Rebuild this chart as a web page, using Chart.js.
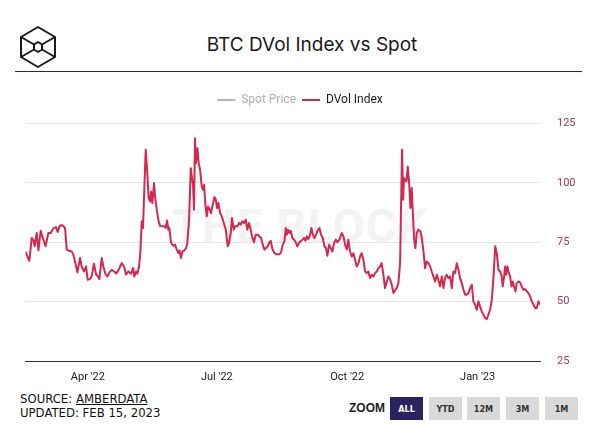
<!DOCTYPE html>
<html>
<head>
<meta charset="utf-8">
<script src="https://cdn.jsdelivr.net/npm/chart.js@4.4.0/dist/chart.umd.min.js"></script>
<style>
  body { margin: 0; background: #fff; }
  #wrap { position: relative; width: 600px; height: 439px; overflow: hidden; background: #fff; font-family: Roboto, sans-serif; }
  #logo { position: absolute; left: 19px; top: 25px; }
  #title { position: absolute; left: 312px; top: 33px; transform: translateX(-50%); font-family: Inter, Roboto, sans-serif; font-size: 19px; color: #1a1a1a; white-space: nowrap; line-height: 24px; }
  #rule { position: absolute; left: 15px; top: 71px; width: 567px; height: 1px; background: #4a1450; }
  #mark { position: absolute; left: 172px; top: 202px; font-family: Roboto, sans-serif; font-weight: 700; font-size: 47px; line-height: 47px; color: #f3f3f3; letter-spacing: 1px; white-space: nowrap; }
  #chart { position: absolute; left: 0; top: 85px; }
  #source { position: absolute; left: 20px; top: 392px; font-family: "Liberation Sans Narrow", "DejaVu Sans Condensed", sans-serif; font-size: 13px; line-height: 14px; color: #111; }
  #source u { text-decoration: underline; }
  #zoom .lbl { position: absolute; left: 349px; top: 401px; font-family: "Liberation Sans", Arial, sans-serif; font-weight: 700; font-size: 12px; color: #222; }
  #zoom .btn { position: absolute; top: 397px; width: 33px; height: 23px; background: #d9d9d9; color: #333; font-family: "Liberation Sans Narrow", "DejaVu Sans Condensed", sans-serif; font-weight: 700; font-size: 9px; display: flex; align-items: center; justify-content: center; }
  #zoom .btn.on { background: #2b2262; color: #fff; }
</style>
</head>
<body>
<div id="wrap">
  <svg id="logo" width="38" height="44" viewBox="0 0 38 44">
    <g fill="none" stroke="#1a1a1a" stroke-width="2" stroke-linejoin="round">
      <polygon points="19,2 36,12 36,32 19,42 2,32 2,12"/>
      <polygon points="19,17 23,19.5 23,24.5 19,27 15,24.5 15,19.5"/>
      <line x1="2" y1="12" x2="15" y2="19.5"/>
      <line x1="36" y1="12" x2="23" y2="19.5"/>
      <line x1="2" y1="32" x2="15" y2="24.5"/>
      <line x1="36" y1="32" x2="23" y2="24.5"/>
    </g>
  </svg>
  <div id="title">BTC DVol Index vs Spot</div>
  <div id="rule"></div>
  <div id="mark">THE BLOCK</div>
  <canvas id="chart" width="600" height="301"></canvas>
  <div id="source">SOURCE: <u>AMBERDATA</u><br>UPDATED: FEB 15, 2023</div>
  <div id="zoom">
    <span class="lbl">ZOOM</span>
    <div class="btn on" style="left:390px">ALL</div>
    <div class="btn" style="left:429px">YTD</div>
    <div class="btn" style="left:467px">12M</div>
    <div class="btn" style="left:506px">3M</div>
    <div class="btn" style="left:545px">1M</div>
  </div>
</div>
<script>
'use strict';

// day 0 = Feb 16 2022
let days = [
  0, 1.3, 2.7, 4.4, 5.5, 6.5, 7.9, 9.1, 10.7, 12.6, 14.2, 16.1, 17.8, 19.6, 21.5, 22.7, 24.3, 26.0, 27.9, 29.1,
  30.7, 32.6, 33.8, 35.2, 36.6, 38.5, 39.6, 41.3, 42.7, 43.9, 45.5, 46.7, 48.3, 49.8, 51.2, 52.1, 53.8, 54.9, 56.3, 57.8,
  59.2, 60.8, 62.5, 64.1, 65.7, 67.9, 69.5, 70.9, 72.6,
  74.5, 75.9, 76.8, 78.0, 79.0, 80.1, 81.0, 82.0, 82.9, 83.9, 84.8, 85.8, 86.9, 87.9, 88.6, 89.5, 90.7, 91.4, 92.6, 93.7,
  94.9, 96.6, 98.0, 98.9, 99.9, 100.8, 101.5, 102.7, 104.3, 105.5, 106.7, 107.9, 108.6, 109.7, 110.7, 112.1, 113.3, 114.2, 115.4, 116.6,
  117.5, 118.2, 118.9, 119.6, 120.3, 121.3, 122.2, 123.2, 124.3, 125.3, 126.0, 126.9, 127.9, 128.8, 130.0, 130.9, 131.9, 133.3, 134.2, 135.2,
  136.1, 137.3, 138.5, 139.9, 141.3, 142.7, 143.6, 144.8, 145.7, 146.9, 147.9,
  149.5, 150.7, 151.8, 153.0, 154.2, 155.4, 156.5, 157.7, 158.9, 160.1, 161.2, 162.4, 163.9, 165.0, 166.2, 167.4, 168.6, 169.7, 170.9, 172.1,
  173.0, 174.2, 175.4, 176.5, 177.9, 179.1, 180.3, 181.5, 182.7, 183.6, 184.3, 185.2, 186.2, 187.1, 188.3, 189.5, 190.7, 191.8, 193.0, 194.2,
  195.4, 196.5, 197.5, 198.4, 199.6, 200.8, 201.7, 202.7, 203.8, 205.0, 206.2, 207.4, 208.5, 209.7, 210.9, 212.0, 213.0, 214.2, 215.3, 216.5,
  217.7, 218.9, 220.1, 221.5,
  223.1, 224.3, 225.5, 226.7, 227.8, 229.0, 230.2, 231.4, 232.5, 233.7, 234.9, 236.1, 237.2, 238.4, 239.6, 240.8, 241.9, 243.1, 244.3, 245.5,
  246.6, 247.8, 249.0, 250.2, 251.3, 252.5, 253.7, 254.9, 256.0, 257.2, 258.4, 259.6, 260.8, 261.9, 263.1, 264.3, 265.0, 265.7, 266.4, 267.1,
  268.0, 268.8, 269.7, 270.7, 271.6, 272.5, 273.2, 274.2, 275.1, 276.0, 277.2, 278.6, 279.6, 280.8, 281.9, 283.1, 284.3, 285.5, 286.6, 287.8,
  289.0, 290.2, 291.3, 292.5, 293.7, 294.9, 296.0,
  297.2, 298.4, 299.6, 300.8, 301.9, 303.1, 304.3, 305.5, 306.6, 307.8, 309.0, 310.2, 311.3, 312.5, 313.7, 314.9, 316.0, 317.2, 318.4, 319.6,
  320.7, 321.9, 323.1, 324.3, 325.5, 326.6, 327.8, 329.0, 330.2, 331.4, 332.5, 333.7, 334.9, 336.0, 336.7, 337.7, 338.4, 339.1, 340.0, 341.0,
  341.9, 342.9, 343.8, 344.7, 345.7, 346.6, 347.8, 348.9, 350.1, 351.3, 352.5, 353.7, 354.8, 356.0, 357.2, 358.4, 359.6, 360.7, 361.9, 363
];

let dvol = [
  71.1, 69.0, 67.2, 76.8, 76.1, 73.3, 78.9, 71.6, 79.8, 76.1, 73.3, 78.9, 78.9, 80.8, 81.4, 79.3, 82.1, 82.2, 81.0, 71.9,
  71.4, 71.1, 69.7, 66.2, 62.3, 68.4, 64.8, 62.7, 64.8, 59.2, 59.5, 60.6, 66.0, 61.4, 60.6, 59.5, 68.4, 64.8, 61.8, 60.6,
  62.3, 63.4, 62.7, 61.8, 63.4, 66.2, 64.8, 61.4, 62.7,
  61.8, 64.1, 60.6, 62.7, 61.8, 64.8, 70.4, 83.8, 81.0, 98.5, 113.9, 105.5, 93.6, 92.2, 96.4, 91.5, 99.9, 94.3, 88.7, 84.5,
  81.9, 81.7, 81.7, 81.0, 84.2, 80.3, 81.0, 74.7, 73.5, 74.0, 71.9, 70.4, 71.6, 68.4, 71.1, 71.6, 72.5, 74.7, 84.5, 106.2,
  102.0, 99.2, 88.7, 118.8, 108.3, 114.6, 108.3, 105.5, 98.5, 97.1, 99.2, 90.8, 85.9, 90.1, 88.7, 87.3, 90.3, 94.0, 93.1, 89.4,
  91.5, 87.3, 85.9, 83.1, 80.3, 73.3, 74.7, 78.9, 85.2, 80.3, 81.7,
  81.7, 83.1, 82.4, 83.8, 83.1, 84.5, 80.3, 83.1, 80.3, 76.8, 75.0, 78.2, 78.2, 77.5, 76.8, 74.0, 71.9, 72.6, 73.3, 75.0,
  75.6, 72.1, 70.7, 70.0, 70.0, 70.0, 70.7, 74.0, 75.4, 81.0, 78.2, 80.3, 78.9, 79.8, 76.8, 76.1, 75.0, 73.3, 74.7, 75.4,
  76.1, 76.8, 75.6, 77.5, 76.3, 78.2, 81.0, 78.2, 76.8, 78.2, 80.0, 81.0, 78.2, 76.8, 73.3, 72.6, 69.3, 74.0, 72.6, 71.1,
  74.7, 76.1, 75.0, 76.1,
  78.9, 77.5, 74.0, 71.9, 76.1, 71.1, 69.0, 70.4, 67.6, 64.8, 66.2, 69.0, 70.4, 67.6, 62.7, 62.0, 62.7, 59.9, 61.3, 60.6,
  62.0, 62.7, 64.1, 64.8, 66.2, 61.3, 55.7, 58.5, 60.6, 59.5, 57.1, 53.6, 54.8, 55.7, 57.8, 66.2, 91.5, 113.9, 92.9, 102.0,
  101.3, 100.6, 106.9, 99.9, 89.4, 97.8, 88.7, 76.1, 72.5, 78.9, 80.3, 79.6, 76.8, 71.1, 64.1, 66.9, 66.2, 64.8, 62.7, 60.6,
  58.5, 61.3, 59.2, 56.4, 60.6, 55.7, 59.9,
  61.3, 59.9, 60.6, 55.7, 62.7, 62.0, 66.2, 63.4, 59.9, 57.8, 55.0, 52.9, 52.9, 53.6, 55.7, 57.1, 50.1, 48.7, 46.6, 50.1,
  48.0, 45.9, 44.5, 43.1, 42.7, 44.5, 46.6, 50.8, 60.6, 73.3, 70.4, 63.4, 62.7, 60.6, 56.4, 60.6, 64.8, 61.3, 64.8, 62.0,
  60.6, 56.4, 58.5, 56.4, 54.3, 57.8, 58.5, 58.1, 56.4, 55.0, 55.3, 54.3, 53.6, 52.2, 50.1, 48.7, 47.3, 47.3, 50.1, 48.7
];

// spot price series is switched off in the original, so nothing is drawn for it
let spotPrice = [];

let tickDays = [44, 135, 227, 319];
let tickLabels = ['Apr \'22', 'Jul \'22', 'Oct \'22', 'Jan \'23'];
let yTicks = [25, 50, 75, 100, 125];

let dvolColor = '#d3284f';
let spotColor = '#b5b5b5';

function makePoints(xs, ys) {
  let pts = [];
  for (let i = 0; i < ys.length; i++) {
    pts.push({ x: xs[i], y: ys[i] });
  }
  return pts;
}

let legendSize = {
  id: 'legendSize',
  beforeInit(chart) {
    let fit = chart.legend.fit;
    chart.legend.fit = function () {
      fit.bind(chart.legend)();
      this.height = 35.5;
    };
  }
};

let ctx = document.getElementById('chart').getContext('2d');
let myChart = new Chart(ctx, {
  type: 'line',
  data: {
    datasets: [{
      label: 'Spot Price',
      data: makePoints(days, spotPrice),
      borderColor: spotColor,
      borderWidth: 2,
      pointRadius: 0
    }, {
      label: 'DVol Index',
      data: makePoints(days, dvol),
      borderColor: dvolColor,
      borderWidth: 2,
      borderJoinStyle: 'round',
      pointRadius: 0,
      tension: 0
    }]
  },
  options: {
    responsive: false,
    animation: false,
    layout: { padding: { left: 0, right: 0, top: 3, bottom: 0 } },
    plugins: {
      tooltip: { enabled: false },
      legend: {
        labels: {
          usePointStyle: true,
          pointStyleWidth: 18,
          padding: 6,
          font: { family: 'Roboto', size: 12 },
          generateLabels: function (chart) {
            return chart.data.datasets.map(function (ds, i) {
              return {
                text: ds.label,
                fillStyle: ds.borderColor,
                strokeStyle: ds.borderColor,
                lineWidth: 2,
                pointStyle: 'line',
                hidden: false,
                datasetIndex: i,
                fontColor: i === 0 ? '#b0b0b0' : '#1a1a1a'
              };
            });
          }
        }
      }
    },
    scales: {
      x: {
        type: 'linear',
        min: 0,
        max: 363,
        grid: { display: false, drawTicks: false },
        border: { color: '#333333', width: 1 },
        afterBuildTicks: function (scale) {
          scale.ticks = tickDays.map(function (d) { return { value: d }; });
        },
        afterFit: function (scale) { scale.height = 25; },
        ticks: {
          autoSkip: false,
          maxRotation: 0,
          padding: 10,
          color: '#222',
          font: { family: 'Roboto', size: 11 },
          callback: function (v, i) { return tickLabels[i]; }
        }
      },
      // empty left axis, only keeps the plot 25px in from the edge
      yLeft: {
        position: 'left',
        min: 25,
        max: 125,
        grid: { display: false, drawTicks: false },
        border: { display: false },
        ticks: { display: false },
        afterFit: function (scale) { scale.width = 25.5; }
      },
      y: {
        position: 'right',
        min: 25,
        max: 125,
        afterBuildTicks: function (scale) {
          scale.ticks = yTicks.map(function (v) { return { value: v }; });
        },
        afterFit: function (scale) { scale.width = 60; },
        grid: { color: '#e6e6e6', drawTicks: false },
        border: { display: false },
        ticks: {
          padding: 17,
          color: '#a33a58',
          font: { family: 'Roboto', size: 11 }
        }
      }
    }
  },
  plugins: [legendSize]
});
</script>
</body>
</html>
